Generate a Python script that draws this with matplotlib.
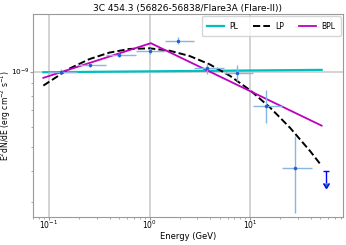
import numpy as np
import matplotlib
matplotlib.use('Agg')
import matplotlib.pyplot as plt

# SED points (energy in GeV, flux in erg cm^-2 s^-1)
energy = [0.131, 0.256, 0.498, 1.0, 1.94, 3.76, 7.38, 14.4, 28.0]
flux = [1.00e-9, 1.064e-9, 1.166e-9, 1.207e-9, 1.33e-9, 1.03e-9, 0.99e-9, 0.731e-9, 0.413e-9]
flux_err = [0.02e-9, 0.02e-9, 0.02e-9, 0.03e-9, 0.041e-9, 0.05e-9, 0.07e-9, 0.11e-9, 0.14e-9]
bin_edges = [0.097, 0.19, 0.37, 0.74, 1.43, 2.8, 5.5, 10.7, 20.8, 41.0]

# upper limit in the last bin
ul_energy = [56.6]
ul_flux = [0.40e-9]

# model curves
pl_e = [0.0877, 51.6]
pl_f = [0.994e-9, 1.016e-9]

lp_e = [0.0877, 0.158, 0.251, 0.398, 0.631, 1.0, 1.585, 2.512, 3.981, 6.31, 10.0, 15.85, 25.12, 39.81, 51.6]
lp_f = [0.879e-9, 1.026e-9, 1.121e-9, 1.191e-9, 1.232e-9, 1.239e-9, 1.212e-9, 1.154e-9,
        1.068e-9, 0.962e-9, 0.843e-9, 0.718e-9, 0.595e-9, 0.480e-9, 0.420e-9]

bpl_e = [0.0877, 1.03, 51.6]
bpl_f = [0.944e-9, 1.299e-9, 0.608e-9]

fig = plt.figure(figsize=(3.46, 2.45), dpi=100)
ax = fig.add_axes([0.095, 0.114, 0.896, 0.829])

e = np.array(energy)
edges = np.array(bin_edges)
xerr = [e - edges[:-1], edges[1:] - e]

ax.errorbar(energy, flux, yerr=flux_err, xerr=xerr, fmt='.', color='#2060d0',
            ecolor='#86b6e2', elinewidth=1.0, markersize=3, zorder=3)
ax.errorbar(ul_energy, ul_flux, yerr=[0.04e-9], uplims=True, fmt='none',
            ecolor='blue', elinewidth=1.0, capsize=2.5, zorder=3)

ax.plot(pl_e, pl_f, color='c', lw=1.6, label='PL')
ax.plot(lp_e, lp_f, color='black', ls='--', lw=1.4, label='LP')
ax.plot(bpl_e, bpl_f, color='m', lw=1.3, label='BPL')

ax.set_xscale('log')
ax.set_yscale('log')
ax.set_xlim(0.069, 84)
ax.set_ylim(2.62e-10, 1.70e-9)
ax.grid(True, which='major', color='#cccccc', lw=1.2)
ax.xaxis.set_minor_formatter(matplotlib.ticker.NullFormatter())
ax.yaxis.set_minor_formatter(matplotlib.ticker.NullFormatter())
ax.tick_params(labelsize=5.5, length=2, pad=1, color='#999999')
ax.tick_params(axis='x', pad=-1)
ax.tick_params(axis='y', pad=0.5, labelsize=5.3)
ax.tick_params(which='minor', length=1.5, color='#999999')
for s in ax.spines.values():
    s.set_color('#999999')

ax.set_xlabel('Energy (GeV)', fontsize=6, labelpad=1)
ax.set_ylabel(r'E$^2$dN/dE (erg cm$^{-2}$ s$^{-1}$)', fontsize=5.5)
ax.yaxis.set_label_coords(-0.064, 0.5)
ax.set_title('3C 454.3 (56826-56838/Flare3A (Flare-II))', fontsize=6.5, pad=2)
ax.legend(loc='upper right', ncol=3, fontsize=5.5, handlelength=2.3,
          handletextpad=0.65, columnspacing=1.9, borderpad=0.7,
          borderaxespad=0.3)

plt.savefig('out.png', dpi=100)
